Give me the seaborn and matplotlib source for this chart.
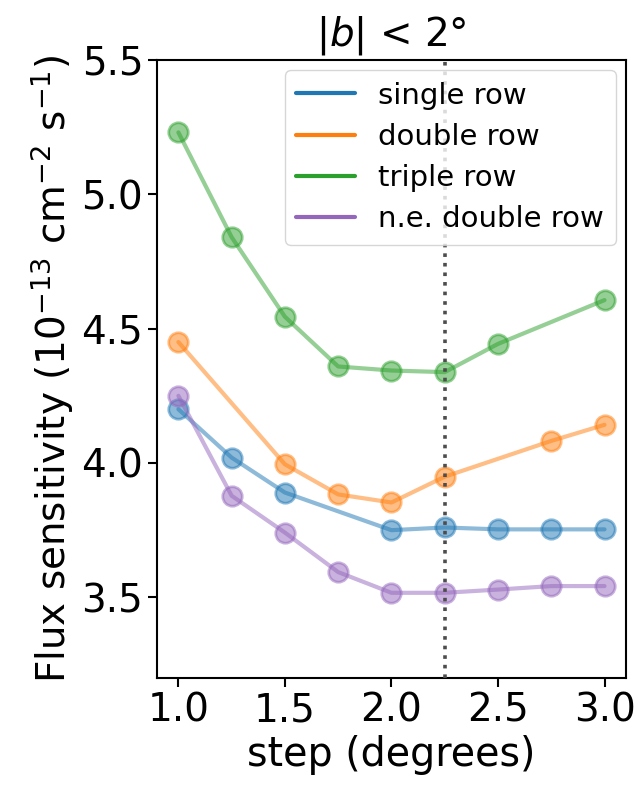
import numpy as np
import pandas as pd
import matplotlib
matplotlib.use("Agg")
import matplotlib.pyplot as plt
from matplotlib.lines import Line2D
import seaborn as sns

# Survey step sizes (degrees) and flux sensitivity for each tiling scheme
steps = [1.0, 1.25, 1.5, 1.75, 2.0, 2.25, 2.5, 2.75, 3.0]
single_row = [4.20, 4.02, 3.89, None, 3.75, 3.76, 3.753, 3.753, 3.753]
double_row = [4.45, None, 3.995, 3.883, 3.853, 3.949, None, 4.082, 4.142]
triple_row = [5.23, 4.84, 4.544, 4.359, 4.344, 4.338, 4.443, None, 4.606]
ne_double_row = [4.25, 3.878, 3.741, 3.594, 3.517, 3.517, 3.529, 3.542, 3.542]

series_names = ["single row", "double row", "triple row", "n.e. double row"]
series_values = [single_row, double_row, triple_row, ne_double_row]
chosen_step = 2.25

sns.set_style("ticks")
plt.rcParams["font.family"] = ["DejaVu Sans"]
plt.rcParams["mathtext.fontset"] = "dejavusans"
plt.rcParams["text.color"] = "black"
plt.rcParams["axes.labelcolor"] = "black"
plt.rcParams["xtick.color"] = "black"
plt.rcParams["ytick.color"] = "black"

tab10 = sns.color_palette("tab10")
colors = [tab10[0], tab10[1], tab10[2], tab10[4]]

fig = plt.figure(figsize=(6.36, 7.87), dpi=100)
ax = fig.add_axes([0.247, 0.1385, 0.737, 0.7855])

for name, vals, c in zip(series_names, series_values, colors):
    df = pd.DataFrame({"step": steps, "flux": vals}).dropna()
    sns.lineplot(data=df, x="step", y="flux", ax=ax, color=c, alpha=0.5,
                 lw=3, marker="o", markersize=14, mec=c, mew=2,
                 legend=False)

ax.axvline(chosen_step, color="0.3", ls=":", lw=2.6, zorder=5)

ax.set_xlim(0.9, 3.1)
ax.set_ylim(3.2, 5.5)
ax.set_xticks([1.0, 1.5, 2.0, 2.5, 3.0])
ax.set_yticks([3.5, 4.0, 4.5, 5.0, 5.5])

for s in ax.spines.values():
    s.set_color("black")
    s.set_linewidth(1.5)
ax.tick_params(labelsize=28, length=6.5, width=1.5, color="black")

ax.set_xlabel("step (degrees)", fontsize=28.5)
ax.set_ylabel(r"Flux sensitivity ($10^{-13}$ cm$^{-2}$ s$^{-1}$)", fontsize=28,
              labelpad=4)
ax.set_title(r"$|b|$ < 2°", fontsize=28, pad=10)

handles = [Line2D([0], [0], color=c, lw=3) for c in colors]
ax.legend(handles, series_names, loc="upper right", fontsize=21,
          frameon=True, handlelength=2.0, borderaxespad=0.35,
          labelspacing=0.45)

fig.savefig("out.png", dpi=100)
